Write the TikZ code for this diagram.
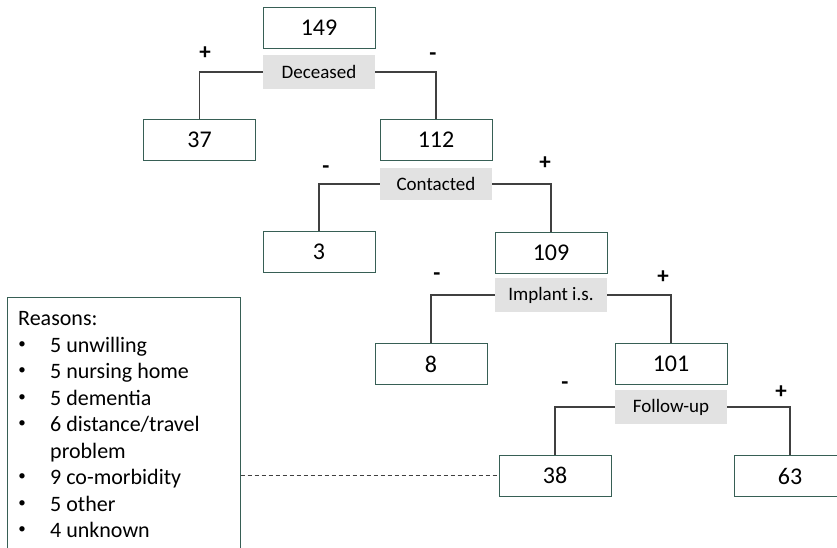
\documentclass[tikz,border=0pt]{standalone}
\usepackage{fontspec}
\setmainfont{Carlito}
\definecolor{boxc}{RGB}{55,95,85}
\definecolor{labc}{RGB}{226,226,226}
\definecolor{connc}{RGB}{64,64,64}
\begin{document}
\begin{tikzpicture}[x=1pt,y=-1pt,
 num/.style={draw=boxc, line width=1pt, minimum width=112pt, minimum height=41pt, inner sep=0pt, font=\fontsize{24}{27}\selectfont, fill=white},
 lbl/.style={fill=labc, minimum width=112pt, minimum height=34pt, inner sep=0pt, font=\fontsize{19}{22}\selectfont},
 sign/.style={font=\bfseries\fontsize{23}{25}\selectfont, inner sep=0pt},
 conn/.style={draw=connc, line width=1.2pt},
 item/.style={anchor=base west, inner sep=0pt, font=\fontsize{22}{26}\selectfont},
 bul/.style={anchor=center, inner sep=0pt, font=\fontsize{15}{18}\selectfont}]
\useasboundingbox (0,0) rectangle (837,548);
\fill[white] (0,0) rectangle (837,548);
% nodes
\node[num] (n149) at (319,28) {149};
\node[lbl] (dec) at (319,72) {Deceased};
\node[num] (n37) at (199.5,140) {37};
\node[num] (n112) at (436,140) {112};
\node[lbl, minimum height=32pt] (con) at (436,184) {Contacted};
\node[num] (n3) at (319,252) {3};
\node[num] (n109) at (551,252.5) {109};
\node[lbl] (imp) at (551,295) {Implant i.s.};
\node[num] (n8) at (431,364) {8};
\node[num] (n101) at (671,364) {101};
\node[lbl] (fol) at (671,407) {Follow-up};
\node[num] (n38) at (555,475.5) {38};
\node[num] (n63) at (790,476) {63};
% signs
\node[sign] (s1) at (205,53) {+};
\node[sign] (s2) at (433,57) {-};
\node[sign] (s3) at (326,170) {-};
\node[sign] (s4) at (545,163) {+};
\node[sign] (s5) at (437,277) {-};
\node[sign] (s6) at (663,277) {+};
\node[sign] (s7) at (565,386) {-};
\node[sign] (s8) at (781,392) {+};
% connectors
\draw[conn] (dec.west) -| (n37.north);
\draw[conn] (dec.east) -| (n112.north);
\draw[conn] (con.west) -| (n3.north);
\draw[conn] (con.east) -| (n109.north);
\draw[conn] (imp.west) -| (n8.north);
\draw[conn] (imp.east) -| (n101.north);
\draw[conn] (fol.west) -| (n38.north);
\draw[conn] (fol.east) -| (n63.north);
% reasons box
\node[draw=boxc, line width=1pt, minimum width=233pt, minimum height=263pt, inner sep=0pt] (rbox) at (123.5,428.5) {};
\node[item] (r0) at (18,325) {Reasons:};
\node[bul] (b1) at (22,345) {•};
\node[item] (r1) at (50,352) {5 unwilling};
\node[bul] (b2) at (22,371.5) {•};
\node[item] (r2) at (50,378.5) {5 nursing home};
\node[bul] (b3) at (22,398) {•};
\node[item] (r3) at (50,405) {5 dementia};
\node[bul] (b4) at (22,424.5) {•};
\node[item] (r4) at (50,431.5) {6 distance/travel};
\node[item] (r5) at (50,458) {problem};
\node[bul] (b6) at (22,477.5) {•};
\node[item] (r6) at (50,484.5) {9 co-morbidity};
\node[bul] (b7) at (22,504) {•};
\node[item] (r7) at (50,511) {5 other};
\node[bul] (b8) at (22,530.5) {•};
\node[item] (r8) at (50,537.5) {4 unknown};
\draw[connc, line width=0.9pt, dash pattern=on 4pt off 3pt] (rbox.east |- n38.west) -- (n38.west);
\end{tikzpicture}
\end{document}
